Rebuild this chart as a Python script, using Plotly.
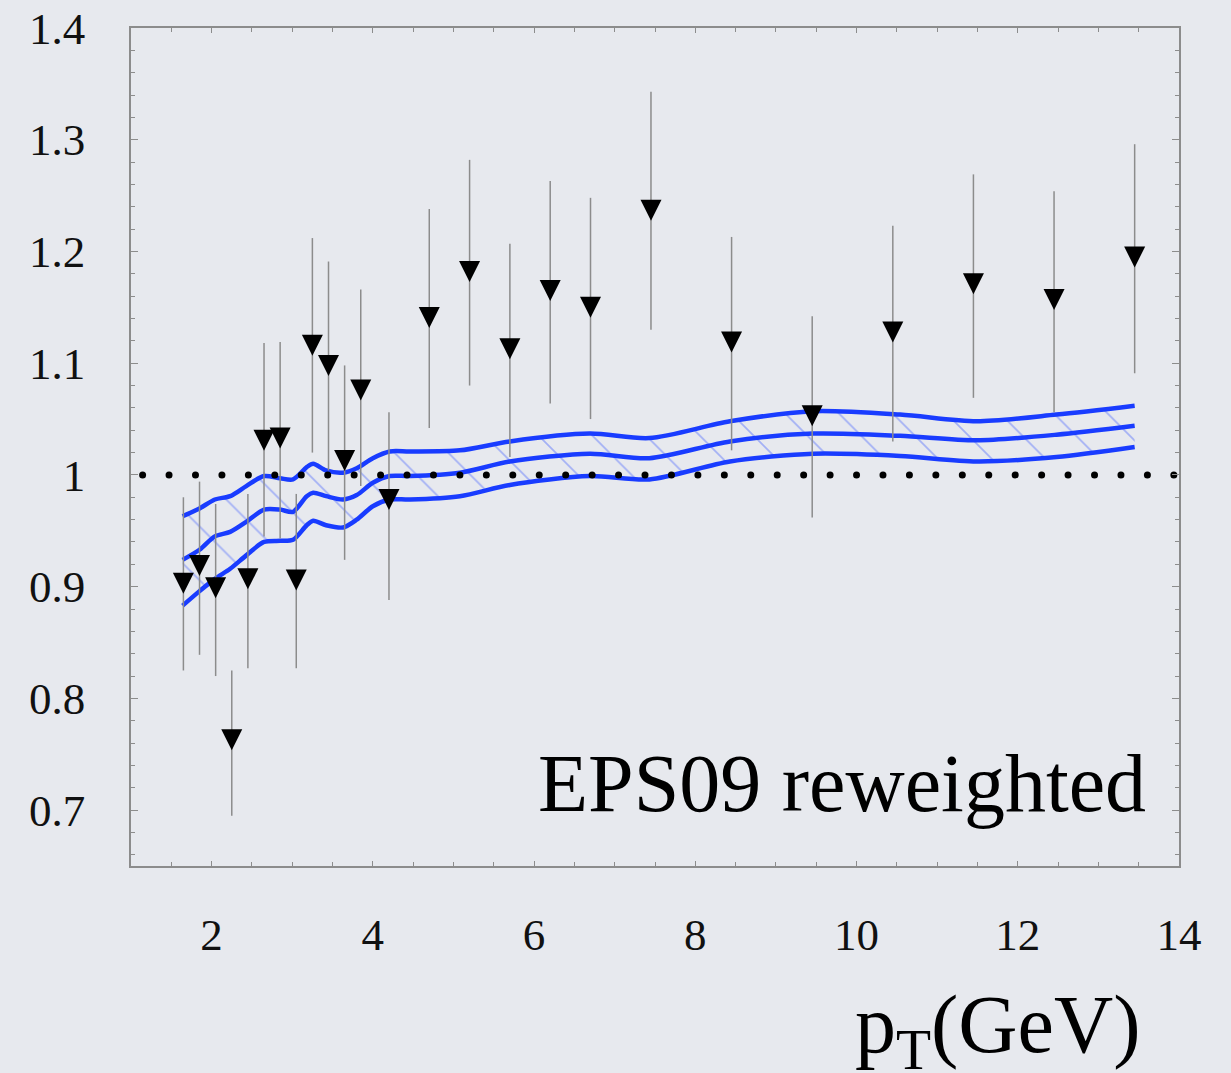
import numpy as np
import plotly.graph_objects as go

# ---------------- data ----------------
pt = [1.65, 1.85, 2.05, 2.25, 2.45, 2.65, 2.85, 3.05, 3.25, 3.45, 3.65, 3.85,
      4.2, 4.7, 5.2, 5.7, 6.2, 6.7, 7.45, 8.45, 9.45, 10.45, 11.45, 12.45, 13.45]
ratio = [0.903, 0.919, 0.899, 0.763, 0.907, 1.031, 1.033, 0.906, 1.116, 1.098, 1.013, 1.076,
         0.978, 1.141, 1.182, 1.113, 1.165, 1.150, 1.237, 1.119, 1.053, 1.128, 1.171, 1.157, 1.195]
ratio_hi = [0.980, 0.994, 0.974, 0.825, 0.983, 1.118, 1.119, 0.983, 1.212, 1.191, 1.098, 1.166,
            1.056, 1.238, 1.282, 1.207, 1.263, 1.248, 1.343, 1.213, 1.142, 1.223, 1.269, 1.254, 1.296]
ratio_lo = [0.825, 0.839, 0.820, 0.695, 0.827, 0.945, 0.943, 0.827, 1.020, 1.004, 0.924, 0.990,
            0.888, 1.042, 1.080, 1.016, 1.064, 1.050, 1.130, 1.022, 0.962, 1.030, 1.069, 1.056, 1.091]

pt_curve = [1.64, 1.85, 2.04, 2.23, 2.43, 2.65, 2.85, 3.01, 3.18, 3.26, 3.42, 3.63, 3.80,
            4.00, 4.21, 4.46, 5.08, 5.70, 6.69, 7.43, 8.43, 9.46, 10.54, 11.49, 12.48, 13.45]
eps_upper = [0.963, 0.970, 0.978, 0.981, 0.990, 0.999, 0.997, 0.996, 1.007, 1.010, 1.004, 1.002, 1.006,
             1.015, 1.021, 1.021, 1.022, 1.030, 1.037, 1.033, 1.048, 1.057, 1.054, 1.048, 1.054, 1.062]
eps_central = [0.924, 0.933, 0.945, 0.949, 0.958, 0.969, 0.969, 0.967, 0.981, 0.984, 0.981, 0.978, 0.982,
               0.993, 0.999, 0.999, 1.002, 1.012, 1.019, 1.015, 1.030, 1.037, 1.035, 1.031, 1.036, 1.044]
eps_lower = [0.883, 0.896, 0.907, 0.916, 0.928, 0.940, 0.941, 0.942, 0.955, 0.959, 0.955, 0.953, 0.960,
             0.972, 0.978, 0.978, 0.981, 0.991, 0.999, 0.996, 1.012, 1.019, 1.017, 1.012, 1.016, 1.025]

x_ticks = [2, 4, 6, 8, 10, 12, 14]
x_ticktext = ["2", "4", "6", "8", "10", "12", "14"]
y_ticks = [0.7, 0.8, 0.9, 1.0, 1.1, 1.2, 1.3, 1.4]
y_ticktext = ["0.7", "0.8", "0.9", "1", "1.1", "1.2", "1.3", "1.4"]
x_range = [1, 14]
y_range = [0.65, 1.4]
ref_level = 1.0

# ---------------- style ----------------
BG = "rgb(231,233,238)"
BLUE = "rgb(25,60,255)"
FONT = "Liberation Serif"
AXCOL = "rgb(140,140,140)"
MSIZE = 21

fig = go.Figure()

# band: lower edge then upper edge with hatched fill
fig.add_trace(go.Scatter(x=pt_curve, y=eps_lower, mode="lines",
                         line=dict(color=BLUE, width=4.5, shape="spline", smoothing=0.8),
                         showlegend=False, hoverinfo="skip"))
fig.add_trace(go.Scatter(x=pt_curve, y=eps_upper, mode="lines",
                         line=dict(color=BLUE, width=4.5, shape="spline", smoothing=0.8),
                         fill="tonexty", fillcolor="rgba(0,0,0,0)",
                         fillpattern=dict(shape="\\", size=38, solidity=0.045,
                                          fgcolor="rgba(60,90,255,0.8)",
                                          bgcolor="rgba(0,0,0,0)"),
                         showlegend=False, hoverinfo="skip"))
fig.add_trace(go.Scatter(x=pt_curve, y=eps_central, mode="lines",
                         line=dict(color=BLUE, width=4.5, shape="spline", smoothing=0.8),
                         showlegend=False, hoverinfo="skip"))

# dotted reference line at 1
dot_x = np.arange(1.144, x_range[1] + 0.01, 0.328)
fig.add_trace(go.Scatter(x=dot_x, y=[ref_level] * len(dot_x), mode="markers",
                         marker=dict(symbol="circle", size=7, color="black"),
                         showlegend=False, hoverinfo="skip"))

# data points with error bars (arrow-down shifted so that the triangle is centred)
err_p = [h - v for h, v in zip(ratio_hi, ratio)]
err_m = [v - l for v, l in zip(ratio, ratio_lo)]
fig.add_trace(go.Scatter(x=pt, y=ratio, mode="markers",
                         marker=dict(symbol="arrow-down", size=MSIZE, color="black",
                                     standoff=MSIZE / 2),
                         error_y=dict(type="data", array=err_p, arrayminus=err_m,
                                      color="rgb(140,140,140)", thickness=1.5, width=0),
                         showlegend=False))

axis_common = dict(showline=True, linecolor=AXCOL, linewidth=1.5, mirror="ticks",
                   ticks="inside", tickcolor=AXCOL, tickwidth=1.2,
                   showgrid=False, zeroline=False, automargin=False,
                   tickfont=dict(family=FONT, size=45, color="#111111"))

fig.update_xaxes(range=x_range, tickmode="array", tickvals=x_ticks, ticktext=x_ticktext,
                 ticklen=5, ticklabelstandoff=28,
                 minor=dict(dtick=0.5, tick0=1, ticklen=4, ticks="inside",
                            tickcolor=AXCOL, tickwidth=1.2),
                 **axis_common)
fig.update_yaxes(range=y_range, tickmode="array", tickvals=y_ticks, ticktext=y_ticktext,
                 ticklen=7, ticklabelstandoff=35,
                 minor=dict(dtick=0.02, tick0=0.7, ticklen=4, ticks="inside",
                            tickcolor=AXCOL, tickwidth=1.2),
                 **axis_common)

fig.add_annotation(text="EPS09 reweighted", xref="paper", yref="paper",
                   x=0.970, y=0.099, xanchor="right", yanchor="middle", showarrow=False,
                   font=dict(family=FONT, size=82, color="black"))
fig.add_annotation(text="p<sub>T</sub>(GeV)", xref="paper", yref="paper",
                   x=0.966, y=-0.196, xanchor="right", yanchor="middle", showarrow=False,
                   font=dict(family=FONT, size=82, color="black"))

fig.update_layout(width=1231, height=1073,
                  margin=dict(l=131, r=52, t=28, b=207, autoexpand=False),
                  paper_bgcolor=BG, plot_bgcolor=BG,
                  showlegend=False)

fig.write_html("out.html", config={"displayModeBar": False},
               post_script="document.body.style.margin='0';document.body.style.background='%s';" % BG)
